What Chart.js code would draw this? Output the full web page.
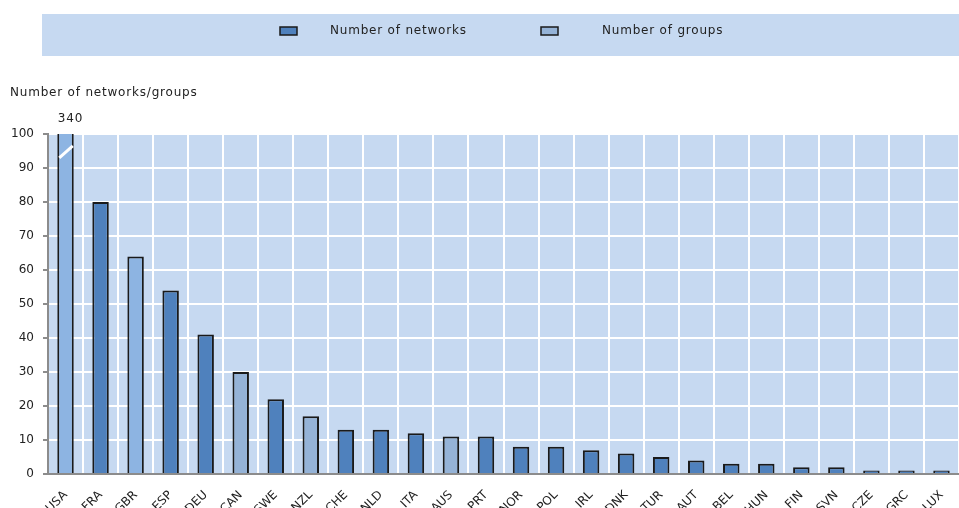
<!DOCTYPE html>
<html>
<head>
<meta charset="utf-8">
<script src="https://cdn.jsdelivr.net/npm/chart.js@4/dist/chart.umd.min.js"></script>
<style>
  html, body { margin: 0; padding: 0; background: #ffffff; overflow: hidden; }
  #wrap { width: 959px; height: 508px; position: relative; }
</style>
</head>
<body>
<div id="wrap"><canvas id="c" width="959" height="508"></canvas></div>
<script>
// ---- Data ----
const categories = ['USA','FRA','GBR','ESP','DEU','CAN','SWE','NZL','CHE','NLD','ITA','AUS','PRT','NOR','POL','IRL','DNK','TUR','AUT','BEL','HUN','FIN','SVN','CZE','GRC','LUX'];
const networks   = [340, 80, 64, 54, 41, null, 22, null, 13, 13, 12, null, 11, 8, 8, 7, 6, 5, 4, 3, 3, 2, 2, 1, 1, 1];
const groups     = [null, null, null, null, null, 30, null, 17, null, null, null, 11, null, null, null, null, null, null, null, null, null, null, null, null, null, null];
const lightNetworkCountries = ['USA', 'GBR'];
const yTicks = [0, 10, 20, 30, 40, 50, 60, 70, 80, 90, 100];
const seriesLabels = ['Number of networks', 'Number of groups'];
const axisTitle = 'Number of networks/groups';
const brokenLabel = '340';

// ---- Styles ----
const FONT = "'DejaVu Sans', sans-serif";
const C_NET = '#4F81BD';
const C_NET_LIGHT = '#8DB4E2';
const C_GRP = '#95B3D7';
const C_BG = '#C6D9F1';
const C_AXIS = '#8C8C8C';

const decorPlugin = {
  id: 'decor',
  beforeDraw(chart) {
    const ctx = chart.ctx;
    const a = chart.chartArea;
    ctx.save();
    // legend band
    ctx.fillStyle = C_BG;
    ctx.fillRect(42, 14, 917, 42);
    // plot background
    ctx.fillRect(a.left, a.top, a.right - a.left, a.bottom - a.top);
    // legend items
    const items = [
      { x: 280, tx: 330, color: C_NET, text: chart.data.datasets[0].label },
      { x: 541, tx: 602, color: C_GRP, text: chart.data.datasets[1].label }
    ];
    ctx.font = '12px ' + FONT;
    ctx.letterSpacing = '0.8px';
    ctx.textBaseline = 'middle';
    ctx.textAlign = 'left';
    items.forEach(it => {
      ctx.fillStyle = it.color;
      ctx.fillRect(it.x, 27, 17, 8);
      ctx.strokeStyle = '#1a1a1a';
      ctx.lineWidth = 1.5;
      ctx.strokeRect(it.x, 27, 17, 8);
      ctx.fillStyle = '#222';
      ctx.fillText(it.text, it.tx, 31);
    });
    // axis title
    ctx.fillStyle = '#222';
    ctx.fillText(axisTitle, 10, 93);
    ctx.letterSpacing = '0px';
    ctx.restore();
  },
  afterDatasetsDraw(chart) {
    const ctx = chart.ctx;
    const meta = chart.getDatasetMeta(0);
    const bar = meta.data[0];
    const y = chart.scales.y;
    ctx.save();
    // break mark on the clipped bar
    const yA = y.getPixelForValue(93);
    const yB = y.getPixelForValue(96.5);
    ctx.strokeStyle = '#ffffff';
    ctx.lineWidth = 3;
    ctx.beginPath();
    ctx.moveTo(bar.x - bar.width / 2 + 2, yA);
    ctx.lineTo(bar.x + bar.width / 2 - 1, yB);
    ctx.stroke();
    // value label
    ctx.fillStyle = '#222';
    ctx.font = '12px ' + FONT;
    ctx.letterSpacing = '0.8px';
    ctx.textAlign = 'center';
    ctx.textBaseline = 'middle';
    ctx.fillText(brokenLabel, bar.x + 5, chart.chartArea.top - 15);
    ctx.letterSpacing = '0px';
    ctx.restore();
  }
};

new Chart(document.getElementById('c'), {
  type: 'bar',
  data: {
    labels: categories,
    datasets: [
      {
        label: seriesLabels[0],
        data: networks,
        backgroundColor: (c) => lightNetworkCountries.includes(categories[c.dataIndex]) ? C_NET_LIGHT : C_NET,
        borderColor: '#1a1a1a',
        borderWidth: 2,
        borderSkipped: 'start',
        barPercentage: 0.47,
        categoryPercentage: 1.0
      },
      {
        label: seriesLabels[1],
        data: groups,
        backgroundColor: C_GRP,
        borderColor: '#1a1a1a',
        borderWidth: 2,
        borderSkipped: 'start',
        barPercentage: 0.47,
        categoryPercentage: 1.0
      }
    ]
  },
  options: {
    responsive: false,
    animation: false,
    layout: { padding: { top: 134, left: 0, right: 0, bottom: 0 } },
    plugins: {
      legend: { display: false },
      tooltip: { enabled: false },
      title: { display: false }
    },
    scales: {
      x: {
        stacked: true,
        grid: { color: '#ffffff', lineWidth: 2, drawTicks: true, tickLength: 8, tickColor: 'rgba(0,0,0,0)', offset: true },
        border: { display: true, color: C_AXIS, width: 2 },
        ticks: {
          font: { family: FONT, size: 12 },
          color: '#222',
          minRotation: 45,
          maxRotation: 45,
          autoSkip: false,
          padding: 6
        },
        afterFit: (s) => { s.height = 34; }
      },
      y: {
        stacked: true,
        min: 0,
        max: 100,
        afterBuildTicks: (s) => { s.ticks = yTicks.map(v => ({ value: v })); },
        grid: { color: '#ffffff', lineWidth: 2, tickColor: C_AXIS, tickLength: 5, drawTicks: true },
        border: { display: true, color: C_AXIS, width: 2 },
        ticks: {
          font: { family: FONT, size: 12 },
          color: '#222',
          padding: 9
        },
        afterFit: (s) => { s.width = 48; }
      }
    }
  },
  plugins: [decorPlugin]
});
</script>
</body>
</html>
